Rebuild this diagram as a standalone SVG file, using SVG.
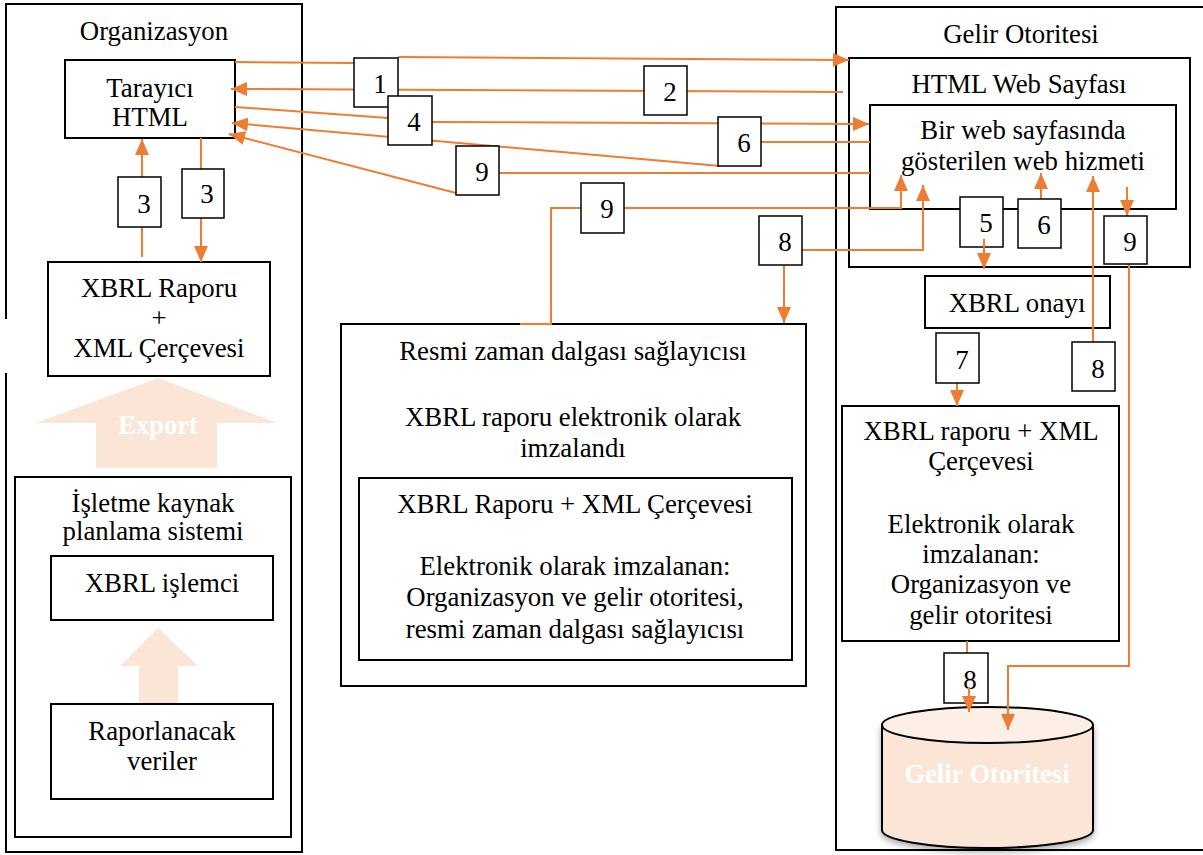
<svg xmlns="http://www.w3.org/2000/svg" width="1203" height="855" viewBox="0 0 1203 855">
<defs>
<style>
.box{fill:#fff;stroke:#000;stroke-width:2}
.frame{fill:none;stroke:#000;stroke-width:2}
.lbl{fill:#fff;stroke:#000;stroke-width:1.5}
.t{font-family:"Liberation Serif","Times New Roman",serif;font-size:26.8px;fill:#000;text-anchor:middle}
.d{font-family:"Liberation Serif","Times New Roman",serif;font-size:27px;fill:#000;text-anchor:middle}
.w{font-family:"Liberation Serif","Times New Roman",serif;font-size:26.5px;font-weight:bold;fill:#fff;text-anchor:middle}
.c{fill:none;stroke:#ED7D31;stroke-width:2}
.ca{fill:none;stroke:#ED7D31;stroke-width:2;marker-end:url(#ah)}
.peach{fill:#FBE5D6;stroke:none}
</style>
<marker id="ah" viewBox="0 0 16 14" refX="16" refY="7" markerWidth="16" markerHeight="14" markerUnits="userSpaceOnUse" orient="auto">
<path d="M0,0 L16,7 L0,14 Z" fill="#ED7D31"/>
</marker>
<filter id="sh" x="-10%" y="-10%" width="120%" height="130%">
<feDropShadow dx="0" dy="3" stdDeviation="3" flood-color="#000" flood-opacity="0.35"/>
</filter>
</defs>

<g id="organizasyon">
<path class="frame" d="M6,319 L6,4 L302,4 L302,852 L6,852 L6,373"/>
<text class="t" x="154" y="40">Organizasyon</text>
</g>

<g id="gelir-otoritesi">
<rect class="frame" x="836" y="7" width="380" height="843"/>
<text class="t" x="1021" y="43">Gelir Otoritesi</text>
</g>

<g id="html-web-sayfasi">
<rect class="box" x="849" y="58" width="341" height="209"/>
<text class="t" x="1019" y="93">HTML Web Sayfası</text>
</g>

<g id="web-hizmeti">
<rect class="box" x="870" y="105" width="306" height="104"/>
<text class="t" x="1023" y="139">Bir web sayfasında</text>
<text class="t" x="1023" y="170">gösterilen web hizmeti</text>
</g>

<g id="export-arrow">
<path class="peach" d="M158,378 L277,423 L217,423 L217,468 L96,468 L96,423 L36,423 Z"/>
<text class="w" x="158" y="434">Export</text>
</g>

<g id="erp">
<rect class="box" x="15" y="477" width="276" height="360"/>
<text class="t" x="153" y="512">İşletme kaynak</text>
<text class="t" x="153" y="540">planlama sistemi</text>
</g>

<g id="small-arrow">
<path class="peach" d="M158,628 L198,666 L178,666 L178,705 L139,705 L139,666 L120,666 Z"/>
</g>

<g id="xbrl-islemci">
<rect class="box" x="51" y="556" width="222" height="64"/>
<text class="t" x="162" y="592">XBRL işlemci</text>
</g>

<g id="raporlanacak">
<rect class="box" x="51" y="704" width="222" height="95"/>
<text class="t" x="162" y="740">Raporlanacak</text>
<text class="t" x="162" y="770">veriler</text>
</g>

<g id="tarayici">
<rect class="box" x="65" y="60" width="170" height="78"/>
<text class="t" x="150" y="97">Tarayıcı</text>
<text class="t" x="150" y="126">HTML</text>
</g>

<g id="xbrl-raporu">
<rect class="box" x="48" y="262" width="222" height="114"/>
<text class="t" x="159" y="297">XBRL Raporu</text>
<text class="t" x="159" y="327">+</text>
<text class="t" x="159" y="357">XML Çerçevesi</text>
</g>

<g id="resmi-zaman">
<rect class="box" x="341" y="324" width="465" height="362"/>
<text class="t" x="573" y="360">Resmi zaman dalgası sağlayıcısı</text>
<text class="t" x="573" y="426">XBRL raporu elektronik olarak</text>
<text class="t" x="573" y="457">imzalandı</text>
</g>

<g id="resmi-inner">
<rect class="box" x="359" y="478" width="433" height="182"/>
<text class="t" x="575" y="513">XBRL Raporu + XML Çerçevesi</text>
<text class="t" x="575" y="575">Elektronik olarak imzalanan:</text>
<text class="t" x="575" y="606">Organizasyon ve gelir otoritesi,</text>
<text class="t" x="575" y="638">resmi zaman dalgası sağlayıcısı</text>
</g>

<g id="xbrl-onayi">
<rect class="box" x="925" y="276" width="185" height="52"/>
<text class="t" x="1017" y="312">XBRL onayı</text>
</g>

<g id="xbrl-raporu-go">
<rect class="box" x="842" y="406" width="277" height="235"/>
<text class="t" x="981" y="440">XBRL raporu + XML</text>
<text class="t" x="981" y="470">Çerçevesi</text>
<text class="t" x="981" y="533">Elektronik olarak</text>
<text class="t" x="981" y="563">imzalanan:</text>
<text class="t" x="981" y="593">Organizasyon ve</text>
<text class="t" x="981" y="624">gelir otoritesi</text>
</g>

<g id="veritabani">
<path d="M882,725 L882,830 A105.5,18 0 0 0 1093,830 L1093,725 Z" fill="#FBE5D6" stroke="#000" stroke-width="2" filter="url(#sh)"/>
<ellipse cx="987.5" cy="725" rx="105.5" ry="18" fill="#FDEEE6" stroke="#000" stroke-width="2"/>
<text class="w" x="987" y="783">Gelir Otoritesi</text>
</g>

<g id="connectors">
<path class="c" d="M235,62 L354,63"/>
<path class="ca" d="M398,57 L849,60"/>
<path class="ca" d="M843,92 L231,89"/>
<path class="ca" d="M142,257 L142,139"/>
<path class="ca" d="M201,138 L201,262"/>
<path class="c" d="M235,107 L388,118"/>
<path class="ca" d="M432,122 L869,124"/>
<path class="c" d="M870,142 L761,142"/>
<path class="ca" d="M720,166 L232,123"/>
<path class="ca" d="M1041,199 L1041,173"/>
<path class="ca" d="M957,383 L957,406"/>
<path class="ca" d="M802,250 L923,250 L923,185"/>
<path class="ca" d="M784,265 L784,323"/>
<path class="ca" d="M1093,342 L1093,176"/>
<path class="c" d="M967,641 L967,653"/>
<path class="c" d="M870,173 L499,173"/>
<path class="ca" d="M456,193 L229,134"/>
<path class="c" d="M520,324 L551,324 L551,208 L581,208"/>
<path class="ca" d="M624,208 L901,208 L901,175"/>
<path class="ca" d="M1127,187 L1127,216"/>
<path class="ca" d="M1127,264 L1129,264 L1129,666 L1008,666 L1008,730"/>
</g>

<g id="labels">
<g id="l1"><rect class="lbl" x="354" y="58" width="44" height="49"/><text class="d" x="380" y="93">1</text></g>
<g id="l2"><rect class="lbl" x="644" y="66" width="43" height="49"/><text class="d" x="670" y="101">2</text></g>
<g id="l3a"><rect class="lbl" x="118" y="177" width="43" height="50"/><text class="d" x="144" y="213">3</text></g>
<g id="l3b"><rect class="lbl" x="182" y="169" width="42" height="49"/><text class="d" x="207" y="203">3</text></g>
<g id="l4"><rect class="lbl" x="388" y="96" width="44" height="49"/><text class="d" x="414" y="131">4</text></g>
<g id="l6a"><rect class="lbl" x="718" y="117" width="43" height="49"/><text class="d" x="744" y="152">6</text></g>
<g id="l9a"><rect class="lbl" x="456" y="146" width="43" height="49"/><text class="d" x="482" y="181">9</text></g>
<g id="l9b"><rect class="lbl" x="581" y="183" width="43" height="50"/><text class="d" x="607" y="218">9</text></g>
<g id="l8a"><rect class="lbl" x="759" y="216" width="43" height="49"/><text class="d" x="785" y="251">8</text></g>
<g id="l5"><rect class="lbl" x="960" y="197" width="43" height="50"/><text class="d" x="986" y="232">5</text></g>
<g id="l6b"><rect class="lbl" x="1018" y="199" width="43" height="49"/><text class="d" x="1044" y="234">6</text></g>
<g id="l9c"><rect class="lbl" x="1104" y="216" width="43" height="48"/><text class="d" x="1130" y="251">9</text></g>
<g id="l7"><rect class="lbl" x="936" y="333" width="43" height="50"/><text class="d" x="962" y="369">7</text></g>
<g id="l8b"><rect class="lbl" x="1072" y="342" width="43" height="49"/><text class="d" x="1098" y="378">8</text></g>
<g id="l8c"><rect class="lbl" x="944" y="653" width="44" height="50"/><text class="d" x="970" y="689">8</text></g>
</g>

<g id="connectors-front">
<path class="ca" d="M969,687 L969,712"/>
<path class="ca" d="M984,239 L984,269"/>
</g>
</svg>
